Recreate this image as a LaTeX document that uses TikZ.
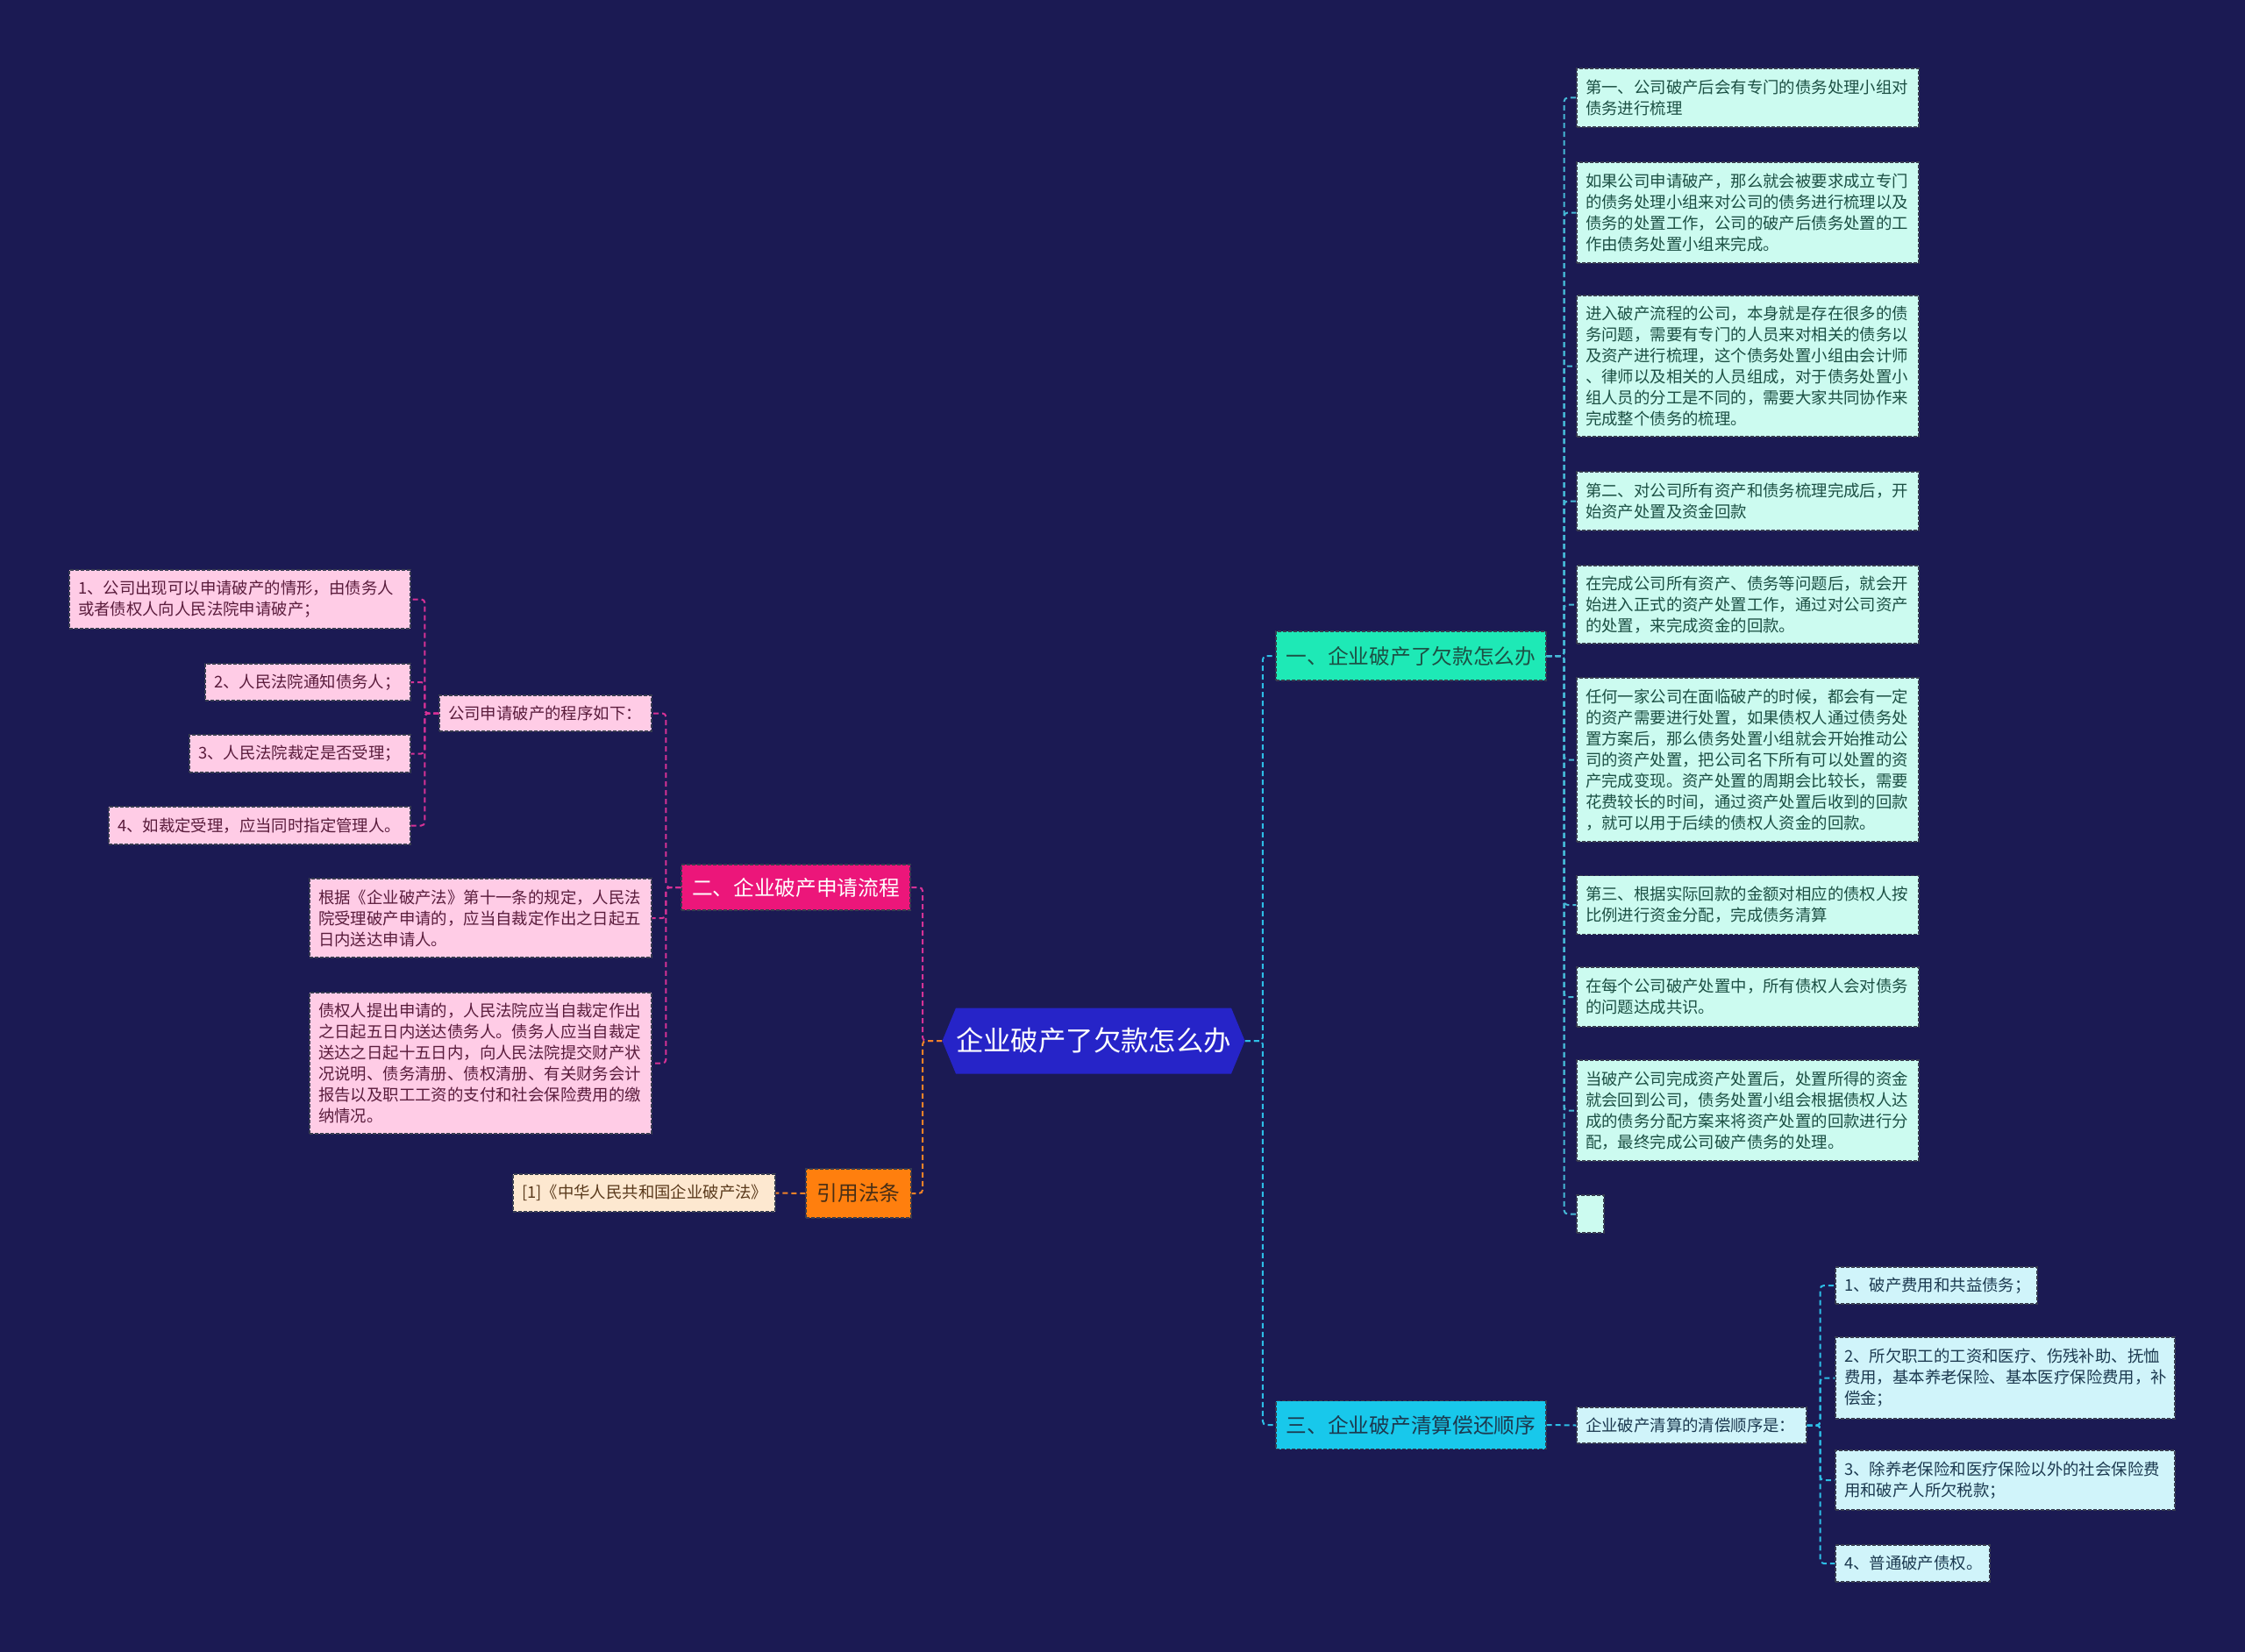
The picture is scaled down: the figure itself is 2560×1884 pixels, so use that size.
\documentclass[tikz,border=0pt]{standalone}
\usepackage{fontspec}
\setmainfont{Noto Sans CJK SC}
\usetikzlibrary{shapes.symbols}
\definecolor{bg}{RGB}{27,26,83}
\definecolor{bdr}{RGB}{55,60,80}
\definecolor{cblue}{RGB}{38,36,200}
\definecolor{bteal}{RGB}{30,233,182}
\definecolor{bcyan}{RGB}{24,200,235}
\definecolor{bpink}{RGB}{236,22,122}
\definecolor{borange}{RGB}{255,127,14}
\definecolor{mint}{RGB}{204,251,240}
\definecolor{minttxt}{RGB}{28,80,68}
\definecolor{lcyan}{RGB}{208,244,250}
\definecolor{lcyantxt}{RGB}{28,58,80}
\definecolor{lpink}{RGB}{255,204,230}
\definecolor{lpinktxt}{RGB}{90,28,60}
\definecolor{lpeach}{RGB}{253,232,208}
\definecolor{lpeachtxt}{RGB}{90,58,28}
\definecolor{lnR}{RGB}{45,190,230}
\definecolor{lnT}{RGB}{70,185,215}
\definecolor{lnP}{RGB}{214,50,150}
\definecolor{lnO}{RGB}{240,130,40}
\begin{document}
\begin{tikzpicture}[x=0.5pt,y=-0.5pt,
  box/.style={draw=bdr, line width=0.6pt, dash pattern=on 2pt off 1pt,
    inner xsep=5pt, inner ysep=0pt, align=left,
    font=\fontsize{9.2}{12}\selectfont},
  tleaf/.style={box, fill=mint, text=minttxt},
  cleaf/.style={box, fill=lcyan, text=lcyantxt},
  pleaf/.style={box, fill=lpink, text=lpinktxt},
  oleaf/.style={box, fill=lpeach, text=lpeachtxt},
  branch/.style={draw=bdr, line width=0.6pt, dash pattern=on 2pt off 1pt,
    inner sep=0pt, align=center, font=\fontsize{11.85}{14}\selectfont},
  conn/.style={line width=1pt, dash pattern=on 3pt off 2pt, rounded corners=2pt},
  cR/.style={conn, draw=lnR},
  cT/.style={conn, draw=lnT},
  cP/.style={conn, draw=lnP},
  cO/.style={conn, draw=lnO}
]
\fill[bg] (0,0) rectangle (2560,1884);
\useasboundingbox (0,0) rectangle (2560,1884);

% centre
\node[signal, signal to=west and east, signal pointer angle=135, fill=cblue,
  text=white, minimum width=170pt, minimum height=37.5pt, inner sep=0pt,
  font=\fontsize{15.7}{18}\selectfont] (C) at (1247,1187) {企业破产了欠款怎么办};

% main branches
\node[branch, fill=bteal, text=minttxt, minimum width=154pt, minimum height=28pt] (B1) at (1609,748) {一、企业破产了欠款怎么办};
\node[branch, fill=bcyan, text=lcyantxt, minimum width=154pt, minimum height=27.5pt] (B3) at (1609,1625) {三、企业破产清算偿还顺序};
\node[branch, fill=bpink, text=white, minimum width=130.5pt, minimum height=26pt] (B2) at (907.5,1012) {二、企业破产申请流程};
\node[branch, fill=borange, text=lpeachtxt!80!black, minimum width=60pt, minimum height=28pt] (B4) at (979,1361) {引用法条};

% right leaves (branch one)
\node[tleaf, text width=185pt, minimum height=33.5pt] (r1) at (1993,111.5) {第一、公司破产后会有专门的债务处理小组对\\债务进行梳理};
\node[tleaf, text width=185pt, minimum height=57.5pt] (r2) at (1993,242.5) {如果公司申请破产，那么就会被要求成立专门\\的债务处理小组来对公司的债务进行梳理以及\\债务的处置工作，公司的破产后债务处置的工\\作由债务处置小组来完成。};
\node[tleaf, text width=185pt, minimum height=80.5pt] (r3) at (1993,417.5) {进入破产流程的公司，本身就是存在很多的债\\务问题，需要有专门的人员来对相关的债务以\\及资产进行梳理，这个债务处置小组由会计师\\、律师以及相关的人员组成，对于债务处置小\\组人员的分工是不同的，需要大家共同协作来\\完成整个债务的梳理。};
\node[tleaf, text width=185pt, minimum height=33.5pt] (r4) at (1993,571.5) {第二、对公司所有资产和债务梳理完成后，开\\始资产处置及资金回款};
\node[tleaf, text width=185pt, minimum height=44.5pt] (r5) at (1993,689.5) {在完成公司所有资产、债务等问题后，就会开\\始进入正式的资产处置工作，通过对公司资产\\的处置，来完成资金的回款。};
\node[tleaf, text width=185pt, minimum height=93.5pt] (r6) at (1993,866.5) {任何一家公司在面临破产的时候，都会有一定\\的资产需要进行处置，如果债权人通过债务处\\置方案后，那么债务处置小组就会开始推动公\\司的资产处置，把公司名下所有可以处置的资\\产完成变现。资产处置的周期会比较长，需要\\花费较长的时间，通过资产处置后收到的回款\\，就可以用于后续的债权人资金的回款。};
\node[tleaf, text width=185pt, minimum height=33.5pt] (r7) at (1993,1032) {第三、根据实际回款的金额对相应的债权人按\\比例进行资金分配，完成债务清算};
\node[tleaf, text width=185pt, minimum height=34pt] (r8) at (1993,1137) {在每个公司破产处置中，所有债权人会对债务\\的问题达成共识。};
\node[tleaf, text width=185pt, minimum height=57.5pt] (r9) at (1993,1266.5) {当破产公司完成资产处置后，处置所得的资金\\就会回到公司，债务处置小组会根据债权人达\\成的债务分配方案来将资产处置的回款进行分\\配，最终完成公司破产债务的处理。};
\node[tleaf, text width=5.5pt, minimum height=21.5pt] (r10) at (1813.5,1384.5) {};

% branch three
\node[cleaf, text width=121pt, minimum height=20.5pt] (S) at (1929,1625.5) {企业破产清算的清偿顺序是：};
\node[cleaf, text width=105pt, minimum height=21pt] (c1) at (2208,1466) {1、破产费用和共益债务；};
\node[cleaf, text width=183.5pt, minimum height=46.5pt] (c2) at (2286.5,1571.5) {2、所欠职工的工资和医疗、伤残补助、抚恤\\费用，基本养老保险、基本医疗保险费用，补\\偿金；};
\node[cleaf, text width=183.5pt, minimum height=34pt] (c3) at (2286.5,1688) {3、除养老保险和医疗保险以外的社会保险费\\用和破产人所欠税款；};
\node[cleaf, text width=78pt, minimum height=21pt] (c4) at (2181,1783) {4、普通破产债权。};

% branch two
\node[pleaf, text width=111pt, minimum height=20.5pt] (P) at (622,813.5) {公司申请破产的程序如下：};
\node[pleaf, text width=184.5pt, minimum height=33.5pt] (l1) at (273.5,683.5) {1、公司出现可以申请破产的情形，由债务人\\或者债权人向人民法院申请破产；};
\node[pleaf, text width=107pt, minimum height=21pt] (l2) at (351,778) {2、人民法院通知债务人；};
\node[pleaf, text width=116pt, minimum height=21.5pt] (l3) at (342,859.5) {3、人民法院裁定是否受理；};
\node[pleaf, text width=162pt, minimum height=21.5pt] (l4) at (296,941.5) {4、如裁定受理，应当同时指定管理人。};
\node[pleaf, text width=185pt, minimum height=45pt] (l5) at (548,1047) {根据《企业破产法》第十一条的规定，人民法\\院受理破产申请的，应当自裁定作出之日起五\\日内送达申请人。};
\node[pleaf, text width=185pt, minimum height=80.5pt] (l6) at (548,1212.5) {债权人提出申请的，人民法院应当自裁定作出\\之日起五日内送达债务人。债务人应当自裁定\\送达之日起十五日内，向人民法院提交财产状\\况说明、债务清册、债权清册、有关财务会计\\报告以及职工工资的支付和社会保险费用的缴\\纳情况。};

% reference
\node[oleaf, text width=139.5pt, minimum height=21.5pt] (ref) at (734.5,1360.5) {[1]《中华人民共和国企业破产法》};

% connectors
\draw[cR] (C.east) -- ([xshift=10pt]C.east) |- (B1.west);
\draw[cR] (C.east) -- ([xshift=10pt]C.east) |- (B3.west);
\draw[cP] (C.west) -- ([xshift=-11pt]C.west) |- (B2.east);
\draw[cO] (C.west) -- ([xshift=-11pt]C.west) |- (B4.east);
\foreach \n in {r1,r2,r3,r4,r5,r6,r7,r8,r9,r10}
  \draw[cT] (B1.east) -- ([xshift=10pt]B1.east) |- (\n.west);
\draw[cR] (B3.east) -- (S.west);
\foreach \n in {c1,c2,c3,c4}
  \draw[cR] (S.east) -- ([xshift=7.5pt]S.east) |- (\n.west);
\foreach \n in {P,l5,l6}
  \draw[cP] (B2.west) -- ([xshift=-8.5pt]B2.west) |- (\n.east);
\foreach \n in {l1,l2,l3,l4}
  \draw[cP] (P.west) -- ([xshift=-8pt]P.west) |- (\n.east);
\draw[cO] (B4.west) -- (ref.east);
\end{tikzpicture}
\end{document}
